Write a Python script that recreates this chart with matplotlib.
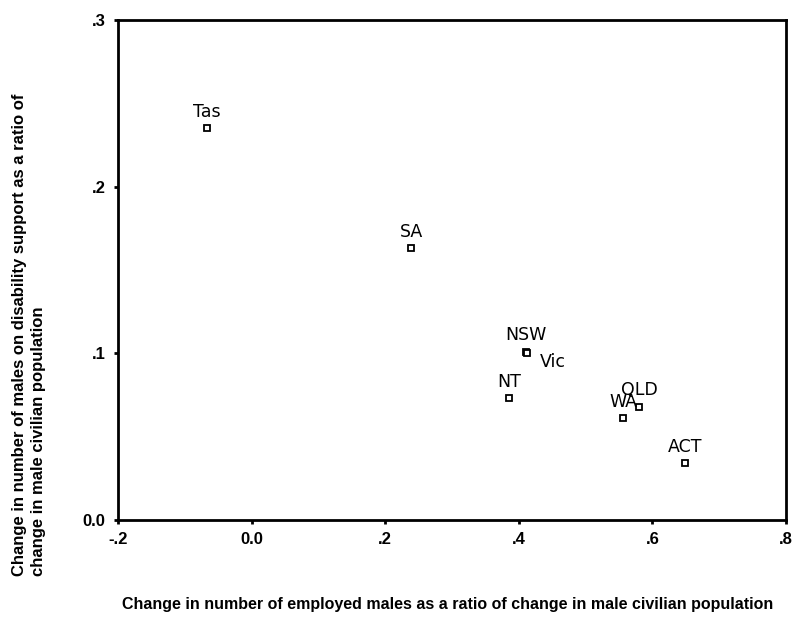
import matplotlib
matplotlib.use("Agg")
import matplotlib.pyplot as plt
from matplotlib.ticker import FixedLocator, FixedFormatter

# States and their values
states = ["Tas", "SA", "NSW", "Vic", "NT", "WA", "QLD", "ACT"]
employed_ratio = [-0.067, 0.239, 0.411, 0.412, 0.385, 0.556, 0.580, 0.649]
disability_ratio = [0.235, 0.163, 0.101, 0.100, 0.073, 0.061, 0.068, 0.034]

x_ticks = [-0.2, 0.0, 0.2, 0.4, 0.6, 0.8]
x_tick_labels = ["-.2", "0.0", ".2", ".4", ".6", ".8"]
y_ticks = [0.0, 0.1, 0.2, 0.3]
y_tick_labels = ["0.0", ".1", ".2", ".3"]

plt.rcParams["font.family"] = ["Liberation Sans", "DejaVu Sans"]

fig = plt.figure(figsize=(8, 6.24), dpi=100)
ax = fig.add_axes([0.1475, 0.1667, 0.835, 0.8013])

ax.plot(employed_ratio, disability_ratio, linestyle="none", marker="s",
        markersize=5, markerfacecolor="white", markeredgecolor="black",
        markeredgewidth=1.3)

# label offsets in points (Vic sits on top of NSW, so its label goes to the side)
offsets = {"Vic": (19, -6.5)}
for name, x, y in zip(states, employed_ratio, disability_ratio):
    dx, dy = offsets.get(name, (0, 12))
    ax.annotate(name, (x, y), xytext=(dx, dy), textcoords="offset points",
                ha="center", va="center", fontsize=12.5, family="DejaVu Sans")

ax.set_xlim(-0.2, 0.8)
ax.set_ylim(0.0, 0.3)
ax.xaxis.set_major_locator(FixedLocator(x_ticks))
ax.xaxis.set_major_formatter(FixedFormatter(x_tick_labels))
ax.yaxis.set_major_locator(FixedLocator(y_ticks))
ax.yaxis.set_major_formatter(FixedFormatter(y_tick_labels))
ax.tick_params(direction="out", length=3, width=2, labelsize=12, pad=6)
for label in ax.get_xticklabels() + ax.get_yticklabels():
    label.set_fontweight("bold")
for spine in ax.spines.values():
    spine.set_linewidth(2)

fig.text(0.56, 1 - 605 / 624,
         "Change in number of employed males as a ratio of change in male civilian population",
         ha="center", va="center", fontsize=11.5, fontweight="bold")
fig.text(0.036, 1 - 576 / 624,
         "Change in number of males on disability support as a ratio of\n"
         "change in male civilian population",
         rotation=90, ha="center", va="bottom", multialignment="left",
         fontsize=12, fontweight="bold", linespacing=1.3)

fig.savefig("out.png", dpi=100, facecolor="white")
